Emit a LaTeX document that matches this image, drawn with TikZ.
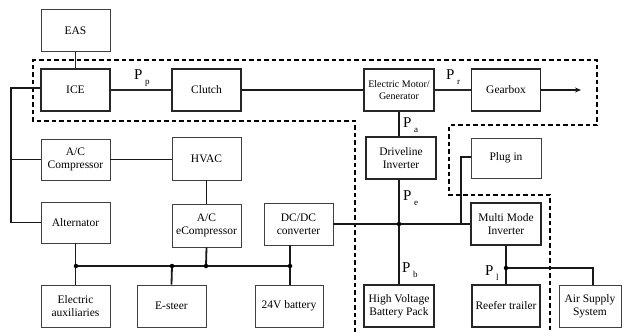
\documentclass[tikz,border=0pt]{standalone}
\usepackage{fontspec}
\setmainfont{Liberation Serif}
\usetikzlibrary{arrows.meta,calc}
\newcommand{\plab}[1]{{\fontsize{15}{15}\selectfont P}\hspace{2.5pt}\raisebox{-5.5pt}{\fontsize{9}{9}\selectfont #1}}
\tikzset{
  thinbox/.style={draw=black!75, line width=0.9pt, minimum width=69pt, minimum height=42pt, inner sep=1pt, align=center, font=\fontsize{11.5}{13}\selectfont},
  thickbox/.style={thinbox, draw=black!85, line width=1.7pt},
  wire/.style={line width=1.1pt, black!85},
  fatwire/.style={line width=1.8pt, black!90},
  junction/.style={circle, fill=black, inner sep=0pt, minimum size=4.5pt},
  region/.style={line width=1.5pt, dash pattern=on 4.5pt off 3pt},
  plabel/.style={anchor=base west, inner sep=0pt}
}
\begin{document}
\begin{tikzpicture}[x=1pt,y=-1pt]
\useasboundingbox (0,0) rectangle (624,332);
% boxes
\node[thinbox] (eas) at (75.5,30.5) {EAS};
\node[thickbox] (ice) at (75.5,90) {ICE};
\node[thickbox] (clutch) at (206.5,90) {Clutch};
\node[thickbox, minimum width=70pt, font=\fontsize{10}{12}\selectfont] (emg) at (399,90) {Electric Motor/\\Generator};
\node[thickbox] (gear) at (506,90) {Gearbox};
\node[thinbox, minimum height=41pt] (acc) at (75.5,159.5) {A/C\\Compressor};
\node[thinbox, minimum height=43pt] (hvac) at (206.5,158.5) {HVAC};
\node[thinbox, minimum height=41pt] (alt) at (75.5,222.5) {Alternator};
\node[thinbox, minimum height=43pt] (acec) at (206.5,225.5) {A/C\\eCompressor};
\node[thinbox] (dcdc) at (298.5,224) {DC/DC\\converter};
\node[thinbox] (eaux) at (75.5,306) {Electric\\auxiliaries};
\node[thinbox] (esteer) at (171.5,306) {E-steer};
\node[thinbox, minimum width=68pt] (batt) at (289,306) {24V battery};
\node[thickbox, minimum width=70pt] (dinv) at (401,158) {Driveline\\Inverter};
\node[thinbox, minimum width=70pt, minimum height=40pt] (plug) at (506,158) {Plug in};
\node[thickbox, minimum width=70pt] (mmi) at (506,224) {Multi Mode\\Inverter};
\node[thickbox, minimum width=70pt] (hvb) at (399,306) {High Voltage\\Battery Pack};
\node[thickbox, minimum width=68pt] (reef) at (506,306) {Reefer trailer};
\node[thinbox, minimum width=62pt] (air) at (590,306) {Air Supply\\System};
% dashed region
\draw[region] (355,332) -- (355,121) -- (33,121) -- (33,60) -- (597,60) -- (597,125)
  -- (449,125) -- (449,195) -- (550,195) -- (550,332);
% coordinates
\coordinate (L1) at (11,88);
\coordinate (b1) at (76,266);
\coordinate (b2) at (172,266);
\coordinate (b3) at (206,266);
\coordinate (b4) at (290,266);
\coordinate (hv) at (399,224);
\coordinate (pl) at (461,157);
\coordinate (ld) at (506,268);
\coordinate (as) at (593,268);
\coordinate (out) at (581,90);
% mechanical path
\draw[wire] (eas) -- (ice);
\draw[wire] (ice) -- (clutch);
\draw[fatwire] (clutch) -- (emg);
\draw[wire] (emg) -- (gear);
\draw[fatwire, -{Stealth[length=6pt,width=5pt]}] (gear) -- (out);
% left auxiliary chain
\draw[fatwire] (ice.west |- L1) -- (L1) |- (alt.west);
\draw[fatwire] (acc.west) -- (acc.west -| L1);
\draw[fatwire] (acc.east) -- (acc.east -| hvac.west);
\draw[fatwire] (hvac) -- (acec);
% 24V bus
\draw[fatwire] (alt) -- (eaux);
\draw[fatwire] (b1) -- (b4);
\draw[fatwire] (esteer.north) -- (b2);
\draw[fatwire] (acec.south) -- (b3);
\draw[fatwire] (b4 |- dcdc.south) -- (b4 |- batt.north);
% HV bus
\draw[fatwire] (dcdc) -- (mmi);
\draw[fatwire] (emg.south) -- (emg.south |- dinv.north);
\draw[fatwire] (hvb.north) -- (hvb.north |- dinv.south);
\draw[fatwire] (pl -| plug.west) -- (pl) -- (pl |- hv);
\draw[fatwire] (mmi) -- (reef);
\draw[fatwire] (ld) -- (as) -- (as |- air.north);
% junctions
\foreach \j in {b1,b2,b3,b4,hv,ld} \node[junction] at (\j) {};
% power labels
\node[plabel] (pp) at (134,79) {\plab{p}};
\node[plabel] (pr) at (446,79) {\plab{r}};
\node[plabel] (pa) at (403,127) {\plab{a}};
\node[plabel] (pe) at (403,200) {\plab{e}};
\node[plabel] (pb) at (402,272) {\plab{b}};
\node[plabel] (pload) at (485,275) {\plab{l}};
\end{tikzpicture}
\end{document}
